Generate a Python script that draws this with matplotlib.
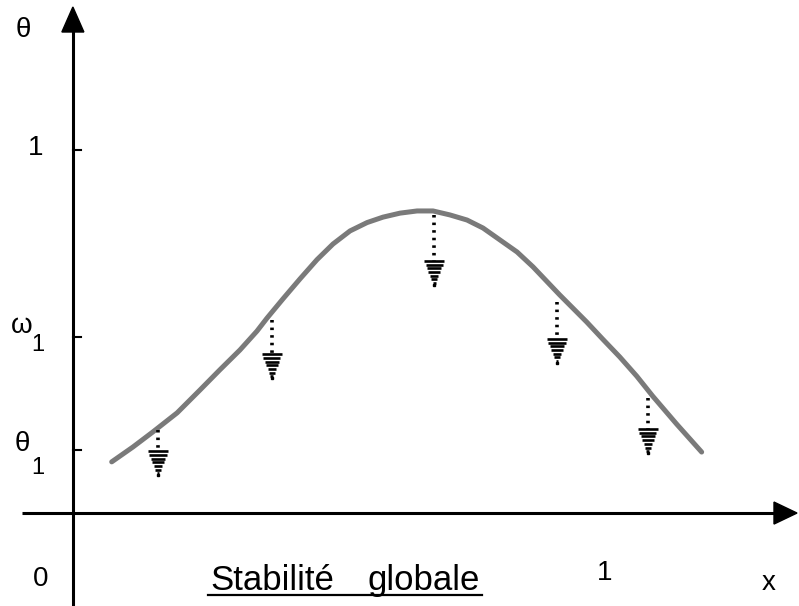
import matplotlib
matplotlib.use("Agg")
import matplotlib.pyplot as plt
from matplotlib.patches import Polygon

plt.rcParams["font.family"] = ["Liberation Sans", "DejaVu Sans"]

# Courbe de stabilité (x, theta)
curve_x = [0.073, 0.113, 0.150, 0.196, 0.239, 0.276, 0.314, 0.346, 0.365, 0.395,
           0.427, 0.459, 0.489, 0.521, 0.553, 0.583, 0.615, 0.647, 0.677, 0.709,
           0.741, 0.771, 0.803, 0.835, 0.865, 0.915, 0.966, 0.996, 1.028, 1.060,
           1.090, 1.135, 1.182]
curve_y = [0.141, 0.182, 0.223, 0.276, 0.339, 0.394, 0.449, 0.501, 0.537, 0.590,
           0.645, 0.698, 0.741, 0.777, 0.800, 0.815, 0.826, 0.832, 0.832, 0.821,
           0.807, 0.785, 0.752, 0.719, 0.678, 0.601, 0.526, 0.479, 0.430, 0.377,
           0.322, 0.245, 0.168]

# Flèches de descente: position, départ, pointe
arrow_x = [0.160, 0.374, 0.679, 0.910, 1.081]
arrow_top = [0.229, 0.532, 0.821, 0.581, 0.317]
arrow_tip = [0.099, 0.366, 0.623, 0.408, 0.160]

# Graduations de l'axe theta
yticks = [1.0, 0.485, 0.174]
ylabels = [("1", ""), ("\u03c9", "1"), ("\u03b8", "1")]
label_offsets = [(0, 0), (11, -8), (6, -18)]  # px: symbole, indice

xmin, xmax = -0.137, 1.365
ymin, ymax = -0.256, 1.413

fig = plt.figure(figsize=(7.99, 6.06), dpi=100)
ax = fig.add_axes([0, 0, 1, 1])
ax.set_xlim(xmin, xmax)
ax.set_ylim(ymin, ymax)
ax.axis("off")

px = (xmax - xmin) / 799
py = (ymax - ymin) / 606

# axes avec flèches
ax.plot([0, 0], [ymin, ymax - 30 * py], color="black", lw=2.2, solid_capstyle="butt")
ax.add_patch(Polygon([(-11 * px, ymax - 32 * py), (11 * px, ymax - 32 * py), (0, ymax - 7 * py)],
                     closed=True, color="black"))
ax.plot([xmin + 22 * px, xmax - 22 * px], [0, 0], color="black", lw=2.2, solid_capstyle="butt")
ax.add_patch(Polygon([(xmax - 25 * px, 11 * py), (xmax - 25 * px, -11 * py), (xmax - 2 * px, 0)],
                     closed=True, color="black"))

# graduations
for yv, (main, sub), (dm, ds) in zip(yticks, ylabels, label_offsets):
    ax.plot([0, 8 * px], [yv, yv], color="black", lw=1.5)
    if sub:
        ax.text(-51 * px, yv + dm * py, main, fontsize=20, ha="center", va="center")
        ax.text(-35 * px, yv + ds * py, sub, fontsize=17, ha="center", va="center")
    else:
        ax.text(-37 * px, yv + 2 * py, main, fontsize=20, ha="center", va="center")

ax.text(-50 * px, ymax - 30 * py, "\u03b8", fontsize=20, ha="center", va="center")
ax.text(-32 * px, -66 * py, "0", fontsize=20, ha="center", va="center")
ax.text(1.0, -60 * py, "1", fontsize=20, ha="center", va="center")
ax.text(xmax - 30 * px, -70 * py, "x", fontsize=20, ha="center", va="center")

# courbe
ax.plot(curve_x, curve_y, color="0.48", lw=3.6, solid_capstyle="round", solid_joinstyle="round")

# flèches pointillées
head_h = 26 * py
head_w = 10 * px
for xv, y0, y1 in zip(arrow_x, arrow_top, arrow_tip):
    ax.plot([xv, xv], [y0, y1 + head_h], color="black", lw=2.6, linestyle=(0, (0.7, 1.4)))
    n = 7
    for k in range(n):
        frac = k / n
        yy = y1 + head_h * (1 - frac)
        hw = head_w * (1 - frac)
        ax.plot([xv - hw, xv + hw], [yy, yy], color="black", lw=1.9, solid_capstyle="butt")
    ax.plot([xv], [y1 + 2 * py], marker="s", color="black", markersize=2)

# titre souligné
fig.canvas.draw()
words = [("Stabilit\u00e9", 0.374), ("globale", 0.660)]
x0s, x1s = [], []
for word, xc in words:
    t = ax.text(xc, -77 * py, word, fontsize=25, ha="center", va="baseline")
    bb = t.get_window_extent(renderer=fig.canvas.get_renderer()).transformed(ax.transData.inverted())
    x0s.append(bb.x0)
    x1s.append(bb.x1)
uy = -82 * py
ax.plot([min(x0s) - 2 * px, max(x1s) + 2 * px], [uy, uy], color="black", lw=1.6)

fig.savefig("out.png", dpi=100)
